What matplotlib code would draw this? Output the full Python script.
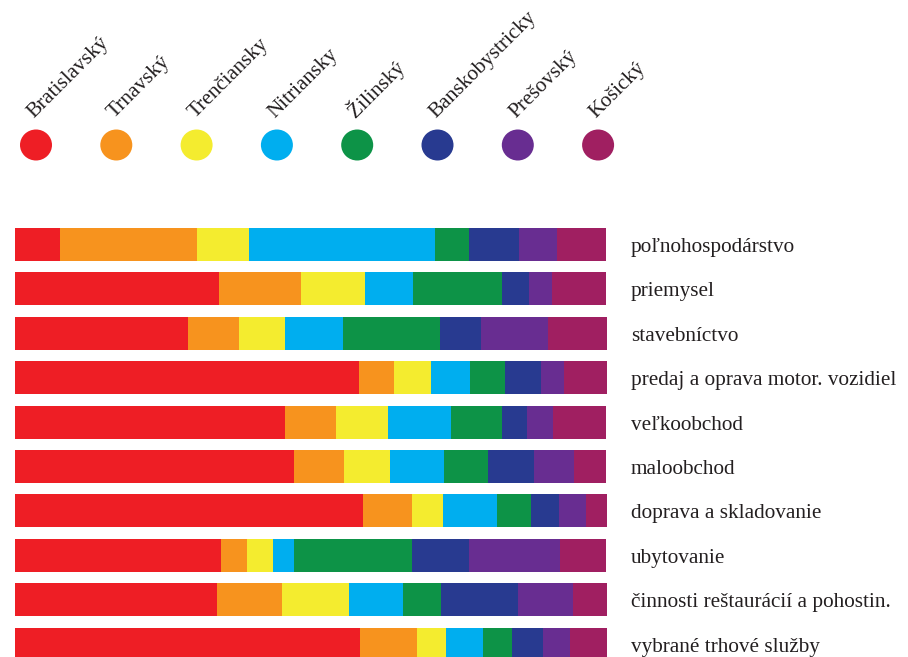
import numpy as np
import matplotlib
matplotlib.use('agg')
import matplotlib.pyplot as plt
from matplotlib.patches import Ellipse

# regions (legend) and sectors (bars)
regions = ['Bratislavský', 'Trnavský', 'Trenčiansky', 'Nitriansky',
           'Žilinský', 'Banskobystricky', 'Prešovský', 'Košický']
colors = ['#EE1E25', '#F7931E', '#F4EC2F', '#00AEEF',
          '#0D9347', '#283A90', '#682D91', '#A01F61']

sectors = ['poľnohospodárstvo', 'priemysel', 'stavebníctvo',
           'predaj a oprava motor. vozidiel', 'veľkoobchod', 'maloobchod',
           'doprava a skladovanie', 'ubytovanie',
           'činnosti reštaurácií a pohostin.', 'vybrané trhové služby']

# share of each region in each sector (%)
bratislavsky = [7.6, 34.5, 29.2, 58.1, 45.6, 47.2, 58.8, 34.9, 34.2, 58.4]
trnavsky     = [23.2, 13.9, 8.7, 6.0, 8.6, 8.5, 8.4, 4.4, 10.9, 9.5]
trenciansky  = [8.8, 10.8, 7.7, 6.3, 8.8, 7.7, 5.1, 4.4, 11.4, 5.0]
nitriansky   = [31.4, 8.1, 9.8, 6.6, 10.8, 9.1, 9.2, 3.4, 9.1, 6.2]
zilinsky     = [5.8, 15.1, 16.5, 5.8, 8.6, 7.5, 5.8, 20.0, 6.4, 4.9]
banskobystr  = [8.4, 4.5, 6.9, 6.1, 4.1, 7.8, 4.6, 9.6, 13.1, 5.2]
presovsky    = [6.4, 3.9, 11.4, 3.9, 4.5, 6.8, 4.6, 15.4, 9.2, 4.7]
kosicky      = [8.4, 9.1, 9.9, 7.3, 9.0, 5.4, 3.6, 7.8, 5.8, 6.2]

series = [bratislavsky, trnavsky, trenciansky, nitriansky,
          zilinsky, banskobystr, presovsky, kosicky]

W, H = 908, 657
plt.rcParams['font.family'] = ['Liberation Serif', 'DejaVu Serif']

fig = plt.figure(figsize=(W / 100, H / 100), dpi=100)

# bars axes: left 15px..607px, bars centred at 244.5 + 44.4*i px
ax = fig.add_axes([15 / W, 0, 592 / W, (H - 200) / H])
y = np.arange(len(sectors))
data = np.array(series)
left = np.zeros(len(sectors))
for vals, c in zip(data, colors):
    ax.barh(y, vals, left=left, height=0.74, color=c, linewidth=0)
    left += vals
ax.set_xlim(0, left.max())
ax.set_ylim((H - 244.5) / 44.4, (200 - 244.5) / 44.4)
ax.axis('off')

for i, s in enumerate(sectors):
    ax.annotate(s, xy=(1, i), xycoords=('axes fraction', 'data'),
                xytext=(24, -3), textcoords='offset pixels',
                ha='left', va='center', fontsize=15.3, color='#231F20')

# legend: ellipses and rotated names
lg = fig.add_axes([0, 0, 1, 1])
lg.set_xlim(0, W)
lg.set_ylim(H, 0)
lg.axis('off')
lg.patch.set_alpha(0)
for i, (r, c) in enumerate(zip(regions, colors)):
    cx = 36 + 80.3 * i
    lg.add_patch(Ellipse((cx, 145), 32, 31, color=c, linewidth=0))
    lg.text(cx - 2, 118, r, rotation=45, rotation_mode='anchor',
            ha='left', va='baseline', fontsize=15.3, color='#231F20')

fig.savefig('out.png', dpi=100)
